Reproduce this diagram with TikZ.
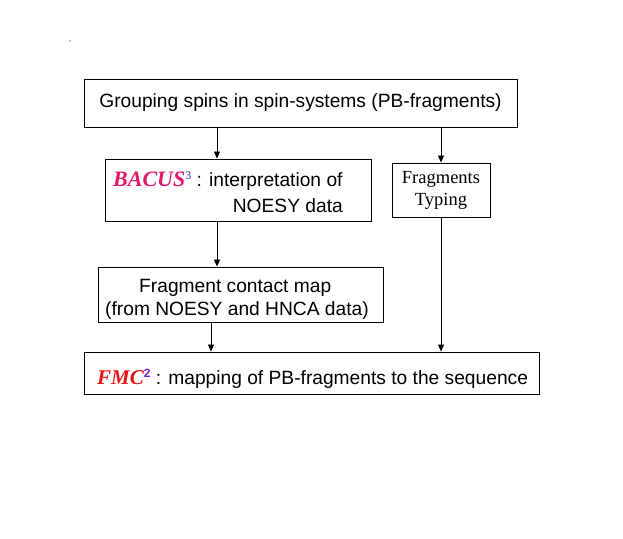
\documentclass[tikz,border=0pt]{standalone}
\usepackage{fontspec}
\setmainfont{Liberation Serif}
\newfontfamily\arialfont{Liberation Sans}
\usetikzlibrary{arrows.meta}

\definecolor{bacuspink}{RGB}{224,24,108}
\definecolor{fmcred}{RGB}{232,20,20}
\definecolor{supblue}{RGB}{70,50,190}
\definecolor{suppurple}{RGB}{112,32,208}

\tikzset{
    stepbox/.style={draw, line width=0.9pt, inner sep=0pt},
    arr/.style={line width=0.8pt, -{Triangle[length=7pt,width=6pt]}},
    txt/.style={font=\arialfont\fontsize{19.2}{22}\selectfont, inner sep=0pt}
}

\begin{document}
\begin{tikzpicture}[x=1pt,y=-1pt]
    \useasboundingbox (0,0) rectangle (623,538);
    \fill (70,41) circle (0.6);

    \node[stepbox, minimum width=433, minimum height=48, txt] (group) at (300.5,103)
        {Grouping spins in spin-systems (PB-fragments)};
    \node[stepbox, minimum width=266, minimum height=62] (bacus) at (238,190) {};
    \node[stepbox, minimum width=98, minimum height=54, align=center,
        font=\fontsize{18.5}{22}\selectfont] (typing) at (441,190) {Fragments\\Typing};
    \node[stepbox, minimum width=285, minimum height=55] (contact) at (240.5,294.5) {};
    \node[stepbox, minimum width=455, minimum height=42] (fmc) at (311.5,373) {};

    % texts of the boxes
    \node[txt, anchor=base west] (bacustxt) at (113,186)
        {\textcolor{bacuspink}{\rmfamily\fontsize{22}{22}\selectfont\bfseries\itshape BACUS}%
         \raisebox{7pt}{\textcolor{supblue}{\rmfamily\fontsize{12}{12}\selectfont 3}} : interpretation of};
    \node[txt, anchor=base east] (noesytxt) at (343,212.5) {NOESY data};
    \node[txt, anchor=base west] (contacttxt) at (139,292) {Fragment contact map};
    \node[txt, anchor=base west] (hncatxt) at (105,315) {(from NOESY and HNCA data)};
    \node[txt, anchor=base west] (fmctxt) at (97,384)
        {\textcolor{fmcred}{\rmfamily\fontsize{21}{21}\selectfont\bfseries\itshape FMC}%
         \raisebox{7pt}{\textcolor{suppurple}{\fontsize{12}{12}\selectfont\bfseries 2}} : mapping of PB-fragments to the sequence};

    % connectors
    \coordinate (c1) at (217,0);
    \coordinate (c3) at (211,0);
    \draw[arr] (c1 |- group.south) -- (c1 |- bacus.north);
    \draw[arr] (typing.north |- group.south) -- (typing.north);
    \draw[arr] (c1 |- bacus.south) -- (c1 |- contact.north);
    \draw[arr] (c3 |- contact.south) -- (c3 |- fmc.north);
    \draw[arr] (typing.south) -- (typing.south |- fmc.north);

\end{tikzpicture}
\end{document}
